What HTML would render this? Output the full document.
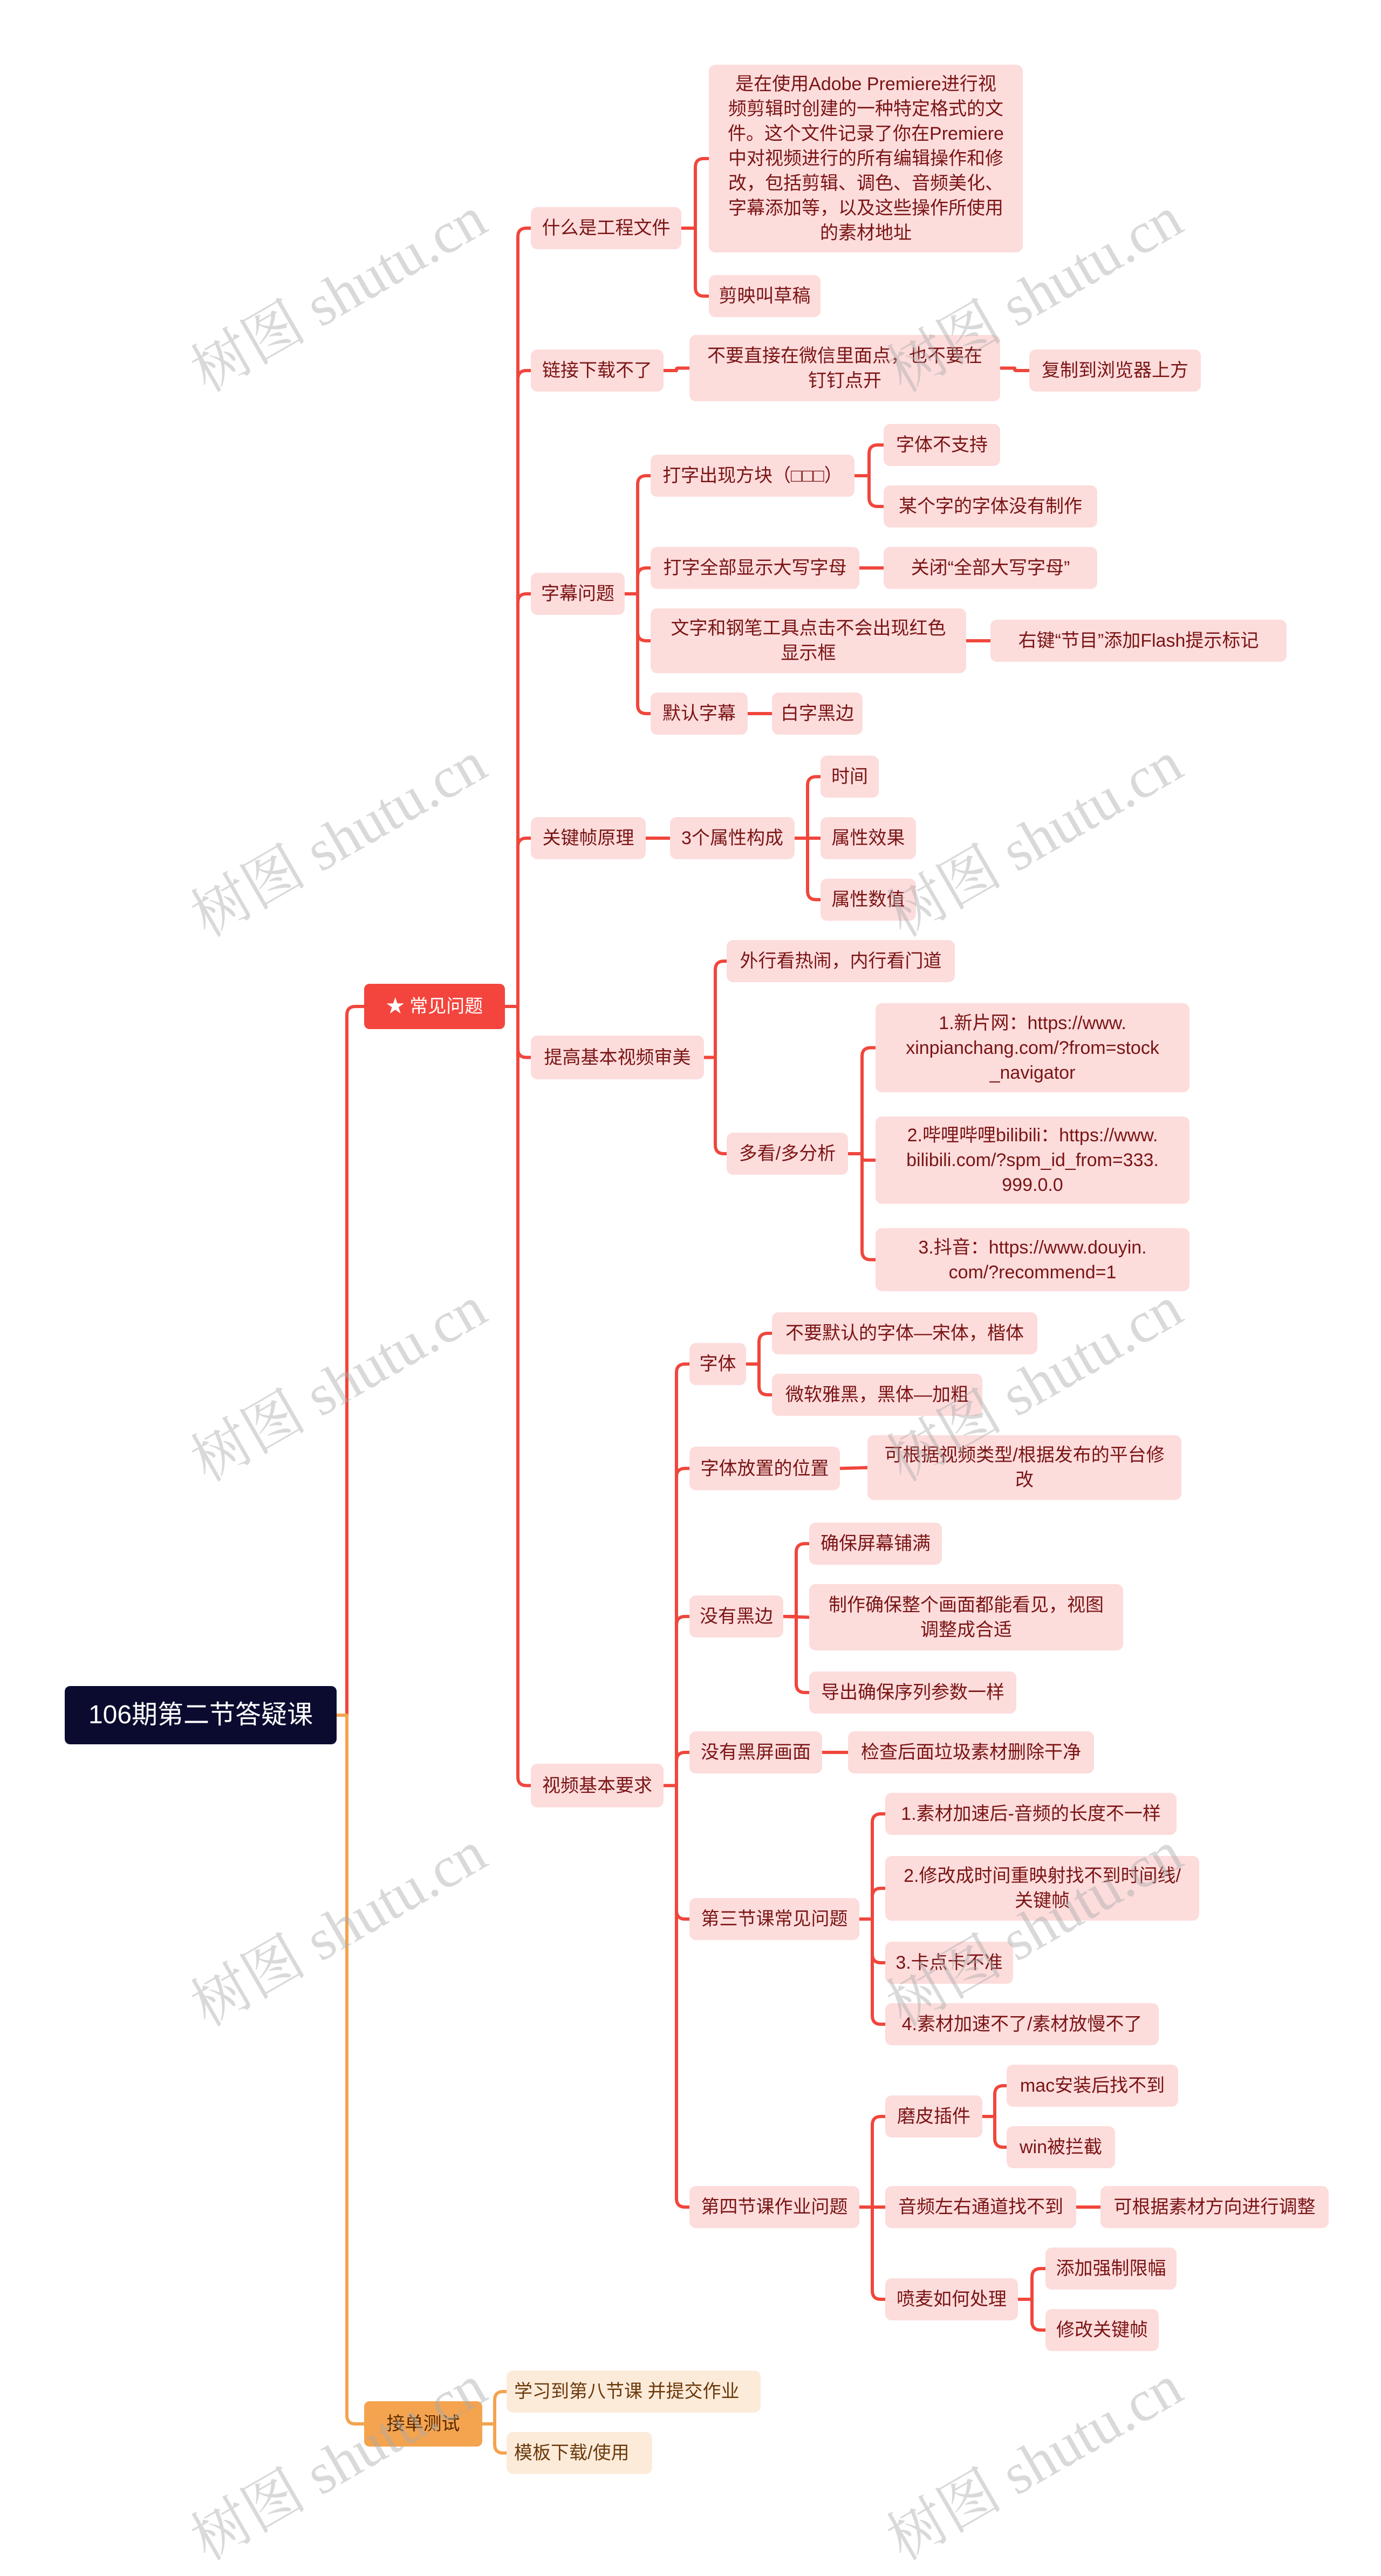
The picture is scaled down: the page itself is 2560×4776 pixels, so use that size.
<!DOCTYPE html>
<html><head><meta charset="utf-8">
<style>
html,body{margin:0;padding:0;background:#fff;}
body{width:2560px;height:4660px;position:relative;overflow:hidden;font-family:"Liberation Sans","Noto Sans CJK SC",sans-serif;}
.n{position:absolute;box-sizing:border-box;display:flex;align-items:center;justify-content:center;text-align:center;border-radius:12px;background:#fddcdc;color:#7a1414;font-size:34px;line-height:46px;padding:0 4px;white-space:nowrap;z-index:2;}
.o{background:#fdebda;color:#6b3a0c;justify-content:flex-start;padding-left:14px;}
.wm{position:absolute;font-family:"Liberation Serif","Noto Serif CJK SC",serif;font-size:108px;color:rgba(170,170,170,0.45);transform:rotate(-30deg);transform-origin:center;white-space:nowrap;z-index:3;pointer-events:none;}
svg{position:absolute;left:0;top:0;z-index:1;}
</style></head><body>
<svg id="cv" width="2560" height="4660" viewBox="0 0 2560 4660"></svg>

<div class="n" id="root" style="left:120px;top:3126px;width:504px;height:108px;background:#0b0b30;color:#fff;font-size:48px;border-radius:10px;">106期第二节答疑课</div>
<div class="n" id="red1" style="left:675px;top:1824px;width:261px;height:84px;background:#f3453d;color:#fff;border-radius:10px;">★ 常见问题</div>
<div class="n" id="org" style="left:675px;top:4452px;width:219px;height:84px;background:#f4a34f;color:#5a2a00;border-radius:10px;">接单测试</div>

<div class="n" id="a1" style="left:984px;top:384px;width:279px;height:78px;">什么是工程文件</div>
<div class="n" id="a2" style="left:984px;top:648px;width:246px;height:78px;">链接下载不了</div>
<div class="n" id="a3" style="left:984px;top:1062px;width:174px;height:78px;">字幕问题</div>
<div class="n" id="a4" style="left:984px;top:1515px;width:213px;height:78px;">关键帧原理</div>
<div class="n" id="a5" style="left:984px;top:1920px;width:321px;height:81px;">提高基本视频审美</div>
<div class="n" id="a6" style="left:984px;top:3270px;width:246px;height:81px;">视频基本要求</div>

<div class="n" id="b1" style="left:1314px;top:120px;width:582px;height:348px;">是在使用Adobe Premiere进行视<br>频剪辑时创建的一种特定格式的文<br>件。这个文件记录了你在Premiere<br>中对视频进行的所有编辑操作和修<br>改，包括剪辑、调色、音频美化、<br>字幕添加等，以及这些操作所使用<br>的素材地址</div>
<div class="n" id="b2" style="left:1314px;top:510px;width:207px;height:78px;">剪映叫草稿</div>
<div class="n" id="b3" style="left:1278px;top:621px;width:576px;height:123px;">不要直接在微信里面点，也不要在<br>钉钉点开</div>
<div class="n" id="b4" style="left:1908px;top:648px;width:318px;height:78px;">复制到浏览器上方</div>

<div class="n" id="c1" style="left:1206px;top:843px;width:378px;height:78px;">打字出现方块（□□□）</div>
<div class="n" id="c1a" style="left:1638px;top:786px;width:216px;height:78px;">字体不支持</div>
<div class="n" id="c1b" style="left:1638px;top:900px;width:396px;height:78px;">某个字的字体没有制作</div>
<div class="n" id="c2" style="left:1206px;top:1014px;width:387px;height:78px;">打字全部显示大写字母</div>
<div class="n" id="c2a" style="left:1638px;top:1014px;width:396px;height:78px;">关闭“全部大写字母”</div>
<div class="n" id="c3" style="left:1206px;top:1128px;width:585px;height:120px;">文字和钢笔工具点击不会出现红色<br>显示框</div>
<div class="n" id="c3a" style="left:1836px;top:1149px;width:549px;height:78px;">右键“节目”添加Flash提示标记</div>
<div class="n" id="c4" style="left:1206px;top:1284px;width:180px;height:78px;">默认字幕</div>
<div class="n" id="c4a" style="left:1431px;top:1284px;width:168px;height:78px;">白字黑边</div>

<div class="n" id="d1" style="left:1242px;top:1515px;width:231px;height:78px;">3个属性构成</div>
<div class="n" id="d1a" style="left:1521px;top:1401px;width:108px;height:78px;">时间</div>
<div class="n" id="d1b" style="left:1521px;top:1515px;width:177px;height:78px;">属性效果</div>
<div class="n" id="d1c" style="left:1521px;top:1629px;width:177px;height:78px;">属性数值</div>

<div class="n" id="e1" style="left:1347px;top:1743px;width:423px;height:78px;">外行看热闹，内行看门道</div>
<div class="n" id="e2" style="left:1347px;top:2100px;width:225px;height:78px;">多看/多分析</div>
<div class="n" id="e2a" style="left:1623px;top:1860px;width:582px;height:165px;">1.新片网：https://www.<br>xinpianchang.com/?from=stock<br>_navigator</div>
<div class="n" id="e2b" style="left:1623px;top:2070px;width:582px;height:162px;">2.哔哩哔哩bilibili：https://www.<br>bilibili.com/?spm_id_from=333.<br>999.0.0</div>
<div class="n" id="e2c" style="left:1623px;top:2277px;width:582px;height:117px;">3.抖音：https://www.douyin.<br>com/?recommend=1</div>

<div class="n" id="f1" style="left:1278px;top:2490px;width:105px;height:78px;">字体</div>
<div class="n" id="f1a" style="left:1431px;top:2433px;width:492px;height:78px;">不要默认的字体—宋体，楷体</div>
<div class="n" id="f1b" style="left:1431px;top:2547px;width:390px;height:78px;">微软雅黑，黑体—加粗</div>
<div class="n" id="f2" style="left:1278px;top:2682px;width:279px;height:81px;">字体放置的位置</div>
<div class="n" id="f2a" style="left:1608px;top:2661px;width:582px;height:120px;">可根据视频类型/根据发布的平台修<br>改</div>
<div class="n" id="f3" style="left:1278px;top:2958px;width:174px;height:78px;">没有黑边</div>
<div class="n" id="f3a" style="left:1500px;top:2823px;width:246px;height:78px;">确保屏幕铺满</div>
<div class="n" id="f3b" style="left:1500px;top:2937px;width:582px;height:123px;">制作确保整个画面都能看见，视图<br>调整成合适</div>
<div class="n" id="f3c" style="left:1500px;top:3099px;width:384px;height:78px;">导出确保序列参数一样</div>
<div class="n" id="f4" style="left:1278px;top:3210px;width:246px;height:78px;">没有黑屏画面</div>
<div class="n" id="f4a" style="left:1572px;top:3210px;width:456px;height:78px;">检查后面垃圾素材删除干净</div>
<div class="n" id="f5" style="left:1278px;top:3519px;width:315px;height:78px;">第三节课常见问题</div>
<div class="n" id="f5a" style="left:1641px;top:3324px;width:540px;height:78px;">1.素材加速后-音频的长度不一样</div>
<div class="n" id="f5b" style="left:1641px;top:3441px;width:582px;height:120px;">2.修改成时间重映射找不到时间线/<br>关键帧</div>
<div class="n" id="f5c" style="left:1641px;top:3600px;width:237px;height:78px;">3.卡点卡不准</div>
<div class="n" id="f5d" style="left:1641px;top:3714px;width:507px;height:78px;">4.素材加速不了/素材放慢不了</div>
<div class="n" id="f6" style="left:1278px;top:4053px;width:315px;height:78px;">第四节课作业问题</div>
<div class="n" id="f6a" style="left:1641px;top:3885px;width:180px;height:78px;">磨皮插件</div>
<div class="n" id="f6a1" style="left:1866px;top:3828px;width:318px;height:78px;">mac安装后找不到</div>
<div class="n" id="f6a2" style="left:1866px;top:3942px;width:201px;height:78px;">win被拦截</div>
<div class="n" id="f6b" style="left:1641px;top:4053px;width:354px;height:78px;">音频左右通道找不到</div>
<div class="n" id="f6b1" style="left:2040px;top:4053px;width:423px;height:78px;">可根据素材方向进行调整</div>
<div class="n" id="f6c" style="left:1641px;top:4224px;width:246px;height:78px;">喷麦如何处理</div>
<div class="n" id="f6c1" style="left:1938px;top:4167px;width:243px;height:78px;">添加强制限幅</div>
<div class="n" id="f6c2" style="left:1938px;top:4281px;width:210px;height:78px;">修改关键帧</div>

<div class="n o" id="g1" style="left:939px;top:4395px;width:471px;height:78px;">学习到第八节课 并提交作业</div>
<div class="n o" id="g2" style="left:939px;top:4509px;width:270px;height:78px;">模板下载/使用</div>

<div class="wm" style="left:320px;top:460px;">树图 shutu.cn</div>
<div class="wm" style="left:1610px;top:460px;">树图 shutu.cn</div>
<div class="wm" style="left:320px;top:1470px;">树图 shutu.cn</div>
<div class="wm" style="left:1610px;top:1470px;">树图 shutu.cn</div>
<div class="wm" style="left:320px;top:2480px;">树图 shutu.cn</div>
<div class="wm" style="left:1610px;top:2480px;">树图 shutu.cn</div>
<div class="wm" style="left:320px;top:3490px;">树图 shutu.cn</div>
<div class="wm" style="left:1610px;top:3490px;">树图 shutu.cn</div>
<div class="wm" style="left:320px;top:4480px;">树图 shutu.cn</div>
<div class="wm" style="left:1610px;top:4480px;">树图 shutu.cn</div>

<script>
(function(){
var R='#f0463c',O='#f4a34f';
var edges=[
['root','red1',R,643],['root','org',O,643],
['red1','a1',R],['red1','a2',R],['red1','a3',R],['red1','a4',R],['red1','a5',R],['red1','a6',R],
['a1','b1',R],['a1','b2',R],['a2','b3',R],['b3','b4',R],
['a3','c1',R],['a3','c2',R],['a3','c3',R],['a3','c4',R],
['c1','c1a',R],['c1','c1b',R],['c2','c2a',R],['c3','c3a',R],['c4','c4a',R],
['a4','d1',R],['d1','d1a',R],['d1','d1b',R],['d1','d1c',R],
['a5','e1',R],['a5','e2',R],['e2','e2a',R],['e2','e2b',R],['e2','e2c',R],
['a6','f1',R],['a6','f2',R],['a6','f3',R],['a6','f4',R],['a6','f5',R],['a6','f6',R],
['f1','f1a',R],['f1','f1b',R],['f2','f2a',R],['f3','f3a',R],['f3','f3b',R],['f3','f3c',R],['f4','f4a',R],
['f5','f5a',R],['f5','f5b',R],['f5','f5c',R],['f5','f5d',R],
['f6','f6a',R],['f6','f6b',R],['f6','f6c',R],
['f6a','f6a1',R],['f6a','f6a2',R],['f6b','f6b1',R],['f6c','f6c1',R],['f6c','f6c2',R],
['org','g1',O],['org','g2',O]
];
function box(id){var e=document.getElementById(id);var l=parseFloat(e.style.left),t=parseFloat(e.style.top),w=parseFloat(e.style.width),h=parseFloat(e.style.height);return {l:l,r:l+w,my:t+h/2};}
var s='';
edges.forEach(function(ed){
var p=box(ed[0]),c=box(ed[1]);
var px=p.r,py=p.my,cx=c.l,cy=c.my;
var bx=ed[3]||Math.round((px+cx)/2);
var d;
if(Math.abs(cy-py)<2){d='M'+px+' '+py+' L'+cx+' '+cy;}
else{var r=Math.min(16,Math.abs(cy-py)/2,(cx-bx));var sg=cy>py?1:-1;
d='M'+px+' '+py+' L'+bx+' '+py+' L'+bx+' '+(cy-sg*r)+' Q'+bx+' '+cy+' '+(bx+r)+' '+cy+' L'+cx+' '+cy;}
s+='<path d="'+d+'" fill="none" stroke="'+ed[2]+'" stroke-width="6" stroke-linejoin="round"/>';
});
document.getElementById('cv').innerHTML=s;
})();
</script>
</body></html>
